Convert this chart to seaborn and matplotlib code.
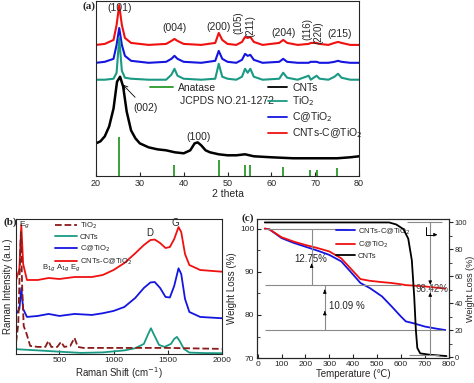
import matplotlib
matplotlib.use("Agg")
import matplotlib.pyplot as plt
import seaborn as sns
from matplotlib.lines import Line2D

# ---- (a) XRD, intensity in arbitrary units (stacked) ----
xrd_x = [20, 22, 24, 24.7, 25.3, 25.9, 26.6, 28, 32, 36, 37.2, 37.9, 38.6, 40, 44, 47.2, 48, 48.8, 50, 52,
         53.3, 54, 54.6, 55.2, 56, 58, 61.8, 62.7, 63.6, 66, 68.5, 69, 70.3, 71, 73, 74.4, 75.2, 76, 78, 80]
xrd_red = [132, 133, 137, 152, 172, 152, 139, 134, 132, 133, 136, 138, 136, 133, 132, 134, 144, 137, 133, 132,
           135, 140, 139, 140, 135, 132, 134, 137, 134, 132, 133, 134, 134, 133, 132, 134, 135, 134, 132, 132]
xrd_blue = [114, 115, 118, 132, 149, 132, 121, 116, 114, 115, 118, 121, 118, 115, 114, 116, 126, 118, 115, 114,
            117, 123, 121, 122, 117, 114, 115, 118, 115, 114, 114, 115, 115, 114, 114, 115, 116, 115, 114, 114]
xrd_teal = [97, 97, 98, 104, 139, 106, 99, 98, 97, 97, 102, 108, 101, 98, 97, 98, 113, 100, 98, 97,
            100, 108, 104, 108, 100, 97, 98, 104, 99, 97, 101, 97, 101, 98, 97, 100, 103, 99, 97, 97]
cnt_x = [20, 21, 22, 23, 24, 24.8, 25.5, 26.2, 27, 28, 29, 30, 32, 34, 36, 38, 40, 41.5, 42.5, 43.2,
         44, 45, 46, 48, 50, 52, 54, 56, 60, 65, 70, 75, 78, 80]
cnt_y = [33, 35, 40, 50, 68, 95, 100, 90, 65, 46, 38, 33, 29, 27, 26, 24, 23, 26, 33, 34,
         31, 26, 24, 22, 21, 21, 22, 20, 19, 18, 18, 18, 19, 20]
jcpds_pos = [25.3, 37.8, 48.0, 53.9, 55.1, 62.7, 68.8, 70.3, 75.0]
jcpds_h = [39, 11, 16, 11, 11, 9, 6, 6, 8]
hkl_labels = ["(101)", "(004)", "(200)", "(105)", "(211)", "(204)", "(116)", "(220)", "(215)"]
hkl_x = [25.3, 38.0, 48.0, 52.5, 55.2, 62.7, 68.2, 70.8, 75.5]
hkl_y = [169, 149, 150, 154, 151, 144, 148, 144, 143]
hkl_rot = [0, 0, 0, 90, 90, 0, 90, 90, 0]

# ---- (b) Raman ----
ram_tio2_x = [100, 120, 135, 144, 155, 170, 197, 230, 300, 370, 398, 425, 480, 515, 545, 600, 639, 670, 720, 1000, 1500, 2000]
ram_tio2_y = [12, 30, 90, 122, 70, 28, 20, 8, 7, 7, 13, 7, 7, 12, 7, 8, 16, 7, 6, 6, 6, 5]
ram_cnt_x = [100, 300, 500, 700, 900, 1100, 1200, 1280, 1320, 1345, 1370, 1420, 1470, 1530, 1560, 1585, 1610, 1650,
             1700, 1850, 2000]
ram_cnt_y = [4.7, 3.5, 2.2, 1.0, 1.5, 3.5, 5.7, 10, 20, 25.7, 20, 9, 7, 10, 15, 17, 13, 5, 1.3, 0.8, 0.7]
ram_c_x = [100, 130, 148, 165, 200, 300, 400, 500, 640, 800, 900, 1000, 1100, 1200, 1280, 1340, 1380, 1430, 1480,
           1520, 1560, 1600, 1625, 1660, 1700, 1800, 2000]
ram_blue_y = [40, 45, 66, 45, 37, 38, 40, 38, 40, 39, 40.7, 43, 47, 56, 66, 71.5, 72, 66, 57,
              56.5, 68, 85.7, 80, 55, 42, 37, 35.7]
ram_red_y = [74, 85, 129, 90, 74, 74, 76, 75, 77, 77, 79, 84, 91, 100.7, 109, 114, 114.5, 111, 106,
             107, 115, 127, 122, 100, 89, 84, 82.3]

# ---- (c) TGA ----
tga_x = [30, 50, 100, 150, 200, 250, 300, 350, 400, 430, 470, 520, 560, 600, 620, 650, 700, 750, 785]
tga_blue = [100, 99.8, 97.8, 96.7, 95.8, 94.9, 93.9, 92.4, 89.3, 87.4, 86.2, 84.3, 82.0, 79.6, 78.5, 78.1, 77.3, 76.8, 76.5]
tga_red = [100, 99.8, 98.0, 97.0, 96.2, 95.5, 94.7, 93.1, 90.1, 88.3, 87.9, 87.6, 87.4, 87.1, 86.9, 86.8, 86.6, 86.3, 86.1]
cnt_tga_x = [30, 300, 550, 580, 610, 630, 645, 655, 662, 668, 680, 720, 790]
cnt_tga_y = [100, 100, 100, 98.5, 95, 88, 72, 45, 20, 7, 3, 2, 1]

sns.set_style("ticks")
plt.rcParams["font.family"] = ["Liberation Sans", "DejaVu Sans"]
plt.rcParams["xtick.direction"] = "in"
plt.rcParams["ytick.direction"] = "in"

red, blue, teal, green, maroon = "#f01010", "#1515e0", "#1a9a85", "#2a9a2a", "#8b1a1a"

fig = plt.figure(figsize=(4.74, 3.83), dpi=100)
ax_a = fig.add_axes([0.2025, 0.540, 0.555, 0.457])
ax_b = fig.add_axes([0.034, 0.076, 0.434, 0.352])
ax_c = fig.add_axes([0.542, 0.065, 0.405, 0.363])

# (a)
sns.lineplot(x=xrd_x, y=xrd_red, ax=ax_a, color=red, lw=1.5)
sns.lineplot(x=xrd_x, y=xrd_blue, ax=ax_a, color=blue, lw=1.5)
sns.lineplot(x=xrd_x, y=xrd_teal, ax=ax_a, color=teal, lw=1.5)
sns.lineplot(x=cnt_x, y=cnt_y, ax=ax_a, color="black", lw=1.8)
ax_a.vlines(jcpds_pos, 0, jcpds_h, color=green, lw=1.3)
for lab, x, y, r in zip(hkl_labels, hkl_x, hkl_y, hkl_rot):
    ax_a.text(x, y, lab, ha="center", va="center", rotation=r, fontsize=7 if r else 7.5)
ax_a.annotate("(002)", xy=(25.7, 94), xytext=(31.2, 69), ha="center", va="center", fontsize=7.5,
              arrowprops=dict(arrowstyle="->", color="black", lw=0.6))
ax_a.text(43.3, 39, "(100)", ha="center", va="center", fontsize=7.5)
ax_a.set_xlim(20, 80)
ax_a.set_ylim(0, 176)
ax_a.set_yticks([])
ax_a.set_xticks(range(20, 81, 10))
ax_a.tick_params(labelsize=6.5, length=3, pad=2)
ax_a.set_xlabel("2 theta", fontsize=7.5, labelpad=1)
leg1 = ax_a.legend([Line2D([], [], color=green, lw=1.3)], ["Anatase"], loc="upper left",
                   bbox_to_anchor=(0.205, 0.535), frameon=False, fontsize=7.5, handlelength=2.2,
                   borderpad=0, borderaxespad=0, handletextpad=0.5)
ax_a.add_artist(leg1)
ax_a.text(0.318, 0.432, "JCPDS NO.21-1272", transform=ax_a.transAxes, fontsize=7.5, va="center")
ax_a.legend([Line2D([], [], color=c, lw=1.3) for c in ["black", teal, blue, red]],
            ["CNTs", "TiO$_2$", "C@TiO$_2$", "CNTs-C@TiO$_2$"], loc="upper left",
            bbox_to_anchor=(0.655, 0.535), frameon=False, fontsize=7.5, handlelength=1.8,
            borderpad=0, borderaxespad=0, handletextpad=0.5, labelspacing=0.2)
fig.text(0.173, 0.983, "(a)", fontsize=8, fontweight="bold", family="Liberation Serif", va="center")

# (b)
sns.lineplot(x=ram_cnt_x, y=ram_cnt_y, ax=ax_b, color=teal, lw=1.3)
sns.lineplot(x=ram_c_x, y=ram_blue_y, ax=ax_b, color=blue, lw=1.3)
sns.lineplot(x=ram_c_x, y=ram_red_y, ax=ax_b, color=red, lw=1.3)
sns.lineplot(x=ram_tio2_x, y=ram_tio2_y, ax=ax_b, color=maroon, lw=1.3, linestyle="--")
ax_b.text(175, 129, "E$_g$", fontsize=6, ha="center", va="center")
ax_b.text(405, 86, "B$_{1g}$", fontsize=5.5, ha="center", va="center")
ax_b.text(530, 86, "A$_{1g}$", fontsize=5.5, ha="center", va="center")
ax_b.text(648, 86, "E$_g$", fontsize=5.5, ha="center", va="center")
ax_b.text(1336, 121, "D", fontsize=7, ha="center", va="center")
ax_b.text(1569, 131, "G", fontsize=7, ha="center", va="center")
ax_b.set_xlim(100, 2000)
ax_b.set_ylim(0, 135)
ax_b.set_yticks([])
ax_b.set_xticks([500, 1000, 1500, 2000])
ax_b.tick_params(labelsize=6, length=3, pad=2)
ax_b.set_xlabel("Raman Shift (cm$^{-1}$)", fontsize=7, labelpad=1)
ax_b.set_ylabel("Raman Intensity (a.u.)", fontsize=7, labelpad=2)
ax_b.legend([Line2D([], [], color=maroon, lw=1.3, ls="--"), Line2D([], [], color=teal, lw=1.3),
             Line2D([], [], color=blue, lw=1.3), Line2D([], [], color=red, lw=1.3)],
            ["TiO$_2$", "CNTs", "C@TiO$_2$", "CNTs-C@TiO$_2$"], loc="upper left",
            bbox_to_anchor=(0.19, 0.99), frameon=False, fontsize=5.5, handlelength=2.8,
            borderpad=0, borderaxespad=0, handletextpad=0.4, labelspacing=0.35)
fig.text(0.008, 0.42, "(b)", fontsize=8, fontweight="bold", family="Liberation Serif", va="center")

# (c)
ax_c2 = ax_c.twinx()
sns.lineplot(x=tga_x, y=tga_blue, ax=ax_c, color=blue, lw=1.3)
sns.lineplot(x=tga_x, y=tga_red, ax=ax_c, color=red, lw=1.3)
sns.lineplot(x=cnt_tga_x, y=cnt_tga_y, ax=ax_c2, color="black", lw=1.3)
ax_c.set_xlim(-3, 800)
ax_c.set_ylim(70, 102.2)
ax_c2.set_ylim(-0.5, 102.5)
ax_c.set_xticks(range(0, 801, 100))
ax_c.set_yticks([70, 80, 90, 100])
ax_c.set_yticks([75, 85, 95], minor=True)
ax_c2.set_yticks(range(0, 101, 20))
ax_c2.set_yticks(range(10, 100, 20), minor=True)
for a in (ax_c, ax_c2):
    a.tick_params(labelsize=6, length=3, pad=2)
    a.tick_params(which="minor", length=1.8)
ax_c2.tick_params(axis="y", which="both", direction="out", pad=1, labelsize=5.5)
ax_c.set_xlabel("Temperature (\u2103)", fontsize=7, labelpad=1)
ax_c.set_ylabel("Weight Loss (%)", fontsize=7, labelpad=2)
ax_c2.set_ylabel("Weight Loss (%)", fontsize=6.5)
ax_c2.yaxis.set_label_coords(1.09, 0.5)

gray = "#8a8a8a"
ax_c.hlines(100, 32, 380, color=gray, lw=0.8)
ax_c.hlines(86.9, 32, 600, color=gray, lw=0.8)
ax_c.hlines(76.6, 32, 780, color=gray, lw=0.8)
ax_c2.hlines(100, 625, 772, color=gray, lw=0.8)
ax_c2.hlines(1.5, 635, 760, color=gray, lw=0.8)
ax_c.vlines(226, 86.9, 100, color=gray, lw=0.8)
ax_c.vlines(281, 76.6, 86.9, color=gray, lw=0.8)
ax_c2.vlines(722, 1.5, 100, color=gray, lw=0.8)
arrow = dict(arrowstyle="-|>", color="black", lw=0.6, mutation_scale=5)
ax_c.annotate("", xy=(226, 92.5), xytext=(226, 91.0), arrowprops=arrow)
ax_c.annotate("", xy=(281, 86.5), xytext=(281, 85.0), arrowprops=arrow)
ax_c.annotate("", xy=(281, 81.5), xytext=(281, 80.0), arrowprops=arrow)
ax_c2.annotate("", xy=(722, 54), xytext=(722, 58), arrowprops=arrow)
ax_c2.annotate("", xy=(722, 48), xytext=(722, 44), arrowprops=arrow)
ax_c2.plot([703, 703, 735], [96.5, 90.9, 90.9], color="black", lw=0.7)
ax_c2.annotate("", xy=(752, 90.9), xytext=(730, 90.9), arrowprops=arrow)
ax_c.text(222, 92.9, "12.75%", fontsize=7, ha="center", va="center")
ax_c.text(372, 82.1, "10.09 %", fontsize=7, ha="center", va="center")
ax_c.text(728, 86.1, "98.42%", fontsize=7, ha="center", va="center", color="#444444")
ax_c.legend([Line2D([], [], color=blue, lw=1.3), Line2D([], [], color=red, lw=1.3),
             Line2D([], [], color="black", lw=1.3)],
            ["CNTs-C@TiO$_2$", "C@TiO$_2$", "CNTs"], loc="upper left",
            bbox_to_anchor=(0.41, 0.95), frameon=False, fontsize=5.5, handlelength=2.6,
            borderpad=0, borderaxespad=0, handletextpad=0.3, labelspacing=0.35)
fig.text(0.51, 0.43, "(c)", fontsize=8, fontweight="bold", family="Liberation Serif", va="center")

fig.savefig("out.png", dpi=100)
